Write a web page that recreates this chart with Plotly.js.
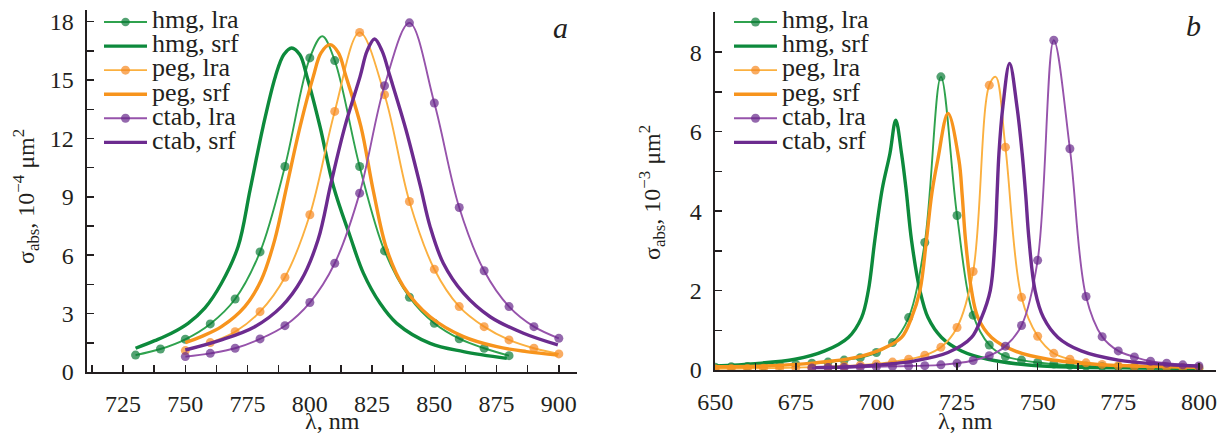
<!DOCTYPE html>
<html><head><meta charset="utf-8">
<script src="https://cdn.plot.ly/plotly-3.0.1.min.js"></script>
<style>html,body{margin:0;padding:0;background:#fff}#chart{width:1224px;height:434px}</style>
</head><body><div id="chart"></div>
<script>
// ---------------- Panel a (sigma_abs, 1e-4 um^2) ----------------
const aHmgLraX = [730,740,750,760,770,780,790,800,810,820,830,840,850,860,870,880];
const aHmgLraY = [0.87,1.18,1.68,2.47,3.75,6.17,10.56,16.14,16.0,10.56,6.22,3.84,2.5,1.71,1.22,0.84];
const aHmgLraPeak = [[805,17.25]];
const aHmgSrfX = [730,737.7,744.4,751.1,757.8,764.5,771.2,776,781.2,786.2,789.5,792.7,796,798.8,804.1,809.5,816.2,821.5,828.2,834.9,848.3,861.7,879.1];
const aHmgSrfY = [1.22,1.61,1.99,2.5,3.28,4.56,6.45,9.36,12.6,15.2,16.3,16.65,16.3,15.2,12.6,9.53,6.96,5.08,3.53,2.5,1.47,1.05,0.7];

const aPegLraX = [750,760,770,780,790,800,810,820,830,840,850,860,870,880,890,900];
const aPegLraY = [1.1,1.51,2.07,3.1,4.87,8.08,13.39,17.45,14.25,8.76,5.28,3.36,2.33,1.65,1.22,0.93];
const aPegLraPeak = [];
const aPegSrfX = [750,756.4,764.5,773.9,780.5,785.9,790.7,796.1,801.4,804.5,808.1,811.5,814.5,820.5,825.5,830.9,837.6,848.3,861.7,875.1,887,899.6];
const aPegSrfY = [1.51,1.82,2.33,3.36,4.73,6.79,9.53,12.62,15.19,16.4,16.82,16.4,15.19,12.62,9.3,6.3,4.39,2.84,1.82,1.3,1.05,0.87];

const aCtabLraX = [750,760,770,780,790,800,810,820,830,840,850,860,870,880,890,900];
const aCtabLraY = [0.79,0.96,1.22,1.7,2.38,3.57,5.59,9.19,14.71,17.94,13.82,8.45,5.2,3.36,2.33,1.73];
const aCtabLraPeak = [];
const aCtabSrfX = [750,764.5,777.9,788.6,796.6,803.3,808.5,814.1,820.2,823,826,829,832.2,838.5,844.3,848.3,853.6,861.7,872.4,885.8,899.6];
const aCtabSrfY = [1.13,1.65,2.33,3.36,4.73,6.79,9.7,12.62,15.19,16.5,17.11,16.5,15.19,12.5,9.6,7.47,5.59,4.05,2.84,1.99,1.39];

// ---------------- Panel b (sigma_abs, 1e-3 um^2) ----------------
const bHmgLraX = [650,655,660,665,670,675,680,685,690,695,700,705,710,715,720,725,730,735,740,745,750,755,760,765,770,775,780,785,790,795,800];
const bHmgLraY = [0.07,0.08,0.09,0.10,0.12,0.14,0.17,0.20,0.25,0.31,0.44,0.69,1.32,3.21,7.38,3.89,1.38,0.63,0.34,0.25,0.19,0.15,0.12,0.10,0.09,0.08,0.07,0.06,0.06,0.05,0.05];
const bHmgLraPeak = [];
const bHmgSrfX = [650,662.4,674.8,684,691.3,695.4,697.5,699.5,701.8,704.2,706,707.8,709.2,710.9,713.5,716,720.2,726.4,734.6,748,763.5,780,800];
const bHmgSrfY = [0.1,0.16,0.27,0.48,0.82,1.32,2.0,3.26,4.55,5.45,6.29,5.45,4.55,3.26,2.0,1.32,0.82,0.48,0.27,0.12,0.07,0.05,0.04];

const bPegLraX = [650,655,660,665,670,675,680,685,690,695,700,705,710,715,720,725,730,735,740,745,750,755,760,765,770,775,780,785,790,795,800];
const bPegLraY = [0.03,0.035,0.04,0.045,0.05,0.06,0.07,0.08,0.1,0.12,0.15,0.2,0.27,0.37,0.57,1.07,2.48,7.17,5.61,1.83,0.85,0.42,0.27,0.18,0.14,0.11,0.09,0.08,0.07,0.06,0.05];
const bPegLraPeak = [[737,7.38]];
const bPegSrfX = [650,665.5,681,693.3,701.6,707.8,710.9,713.5,715.5,717.2,719,722.2,725.6,726.6,727.6,729.5,731.5,735.7,742.9,753.2,768.7,785,800];
const bPegSrfY = [0.08,0.1,0.18,0.31,0.52,0.82,1.32,2.0,3.26,4.45,5.28,6.46,5.28,4.4,3.3,2.0,1.32,0.82,0.48,0.27,0.14,0.09,0.07];

const bCtabLraX = [680,685,690,695,700,705,710,715,720,725,730,735,740,745,750,755,760,765,770,775,780,785,790,795,800];
const bCtabLraY = [0.05,0.06,0.06,0.07,0.08,0.09,0.1,0.11,0.13,0.17,0.24,0.36,0.6,1.12,2.76,8.3,5.57,1.85,0.84,0.48,0.33,0.22,0.17,0.13,0.1];
const bCtabLraPeak = [];
const bCtabSrfX = [681,696.4,711.9,722.2,729.5,732.6,735.3,736.8,737.4,738,739.2,741.3,743.6,745.2,746.3,747.3,749.2,751.8,756.3,763.5,775,790,800];
const bCtabSrfY = [0.06,0.1,0.23,0.44,0.82,1.32,2.0,3.3,4.4,5.45,6.62,7.72,6.62,5.45,4.4,3.3,2.0,1.32,0.82,0.48,0.25,0.14,0.1];

const seriesNames = ['hmg, lra','hmg, srf','peg, lra','peg, srf','ctab, lra','ctab, srf'];
const xTitle = 'λ, nm';
const yTitleA = 'σ<sub>abs</sub>, 10<sup>−4</sup> μm<sup>2</sup>';
const yTitleB = 'σ<sub>abs</sub>, 10<sup>−3</sup> μm<sup>2</sup>';

// ---------------- styles ----------------
const COL = {
  hmg:  {srf:'#0d8a3c', lra:'#2fa24e', mk:'#0a7a36'},
  peg:  {srf:'#f7941d', lra:'#fbb040', mk:'#f6891f'},
  ctab: {srf:'#6c2b8f', lra:'#9653ab', mk:'#67288a'}
};
const LEG_TEXT = 26;
function label(n){ return '<span style="font-size:'+LEG_TEXT+'px">'+n+'</span>'; }

function lraTrace(name, mx, my, peaks, c, xa, ya, leg){
  const pts = mx.map((x,i)=>[x,my[i],9]);
  peaks.forEach(p=>pts.push([p[0],p[1],0]));
  pts.sort((a,b)=>a[0]-b[0]);
  return {type:'scatter', mode:'lines+markers', name:label(name),
    x:pts.map(p=>p[0]), y:pts.map(p=>p[1]), xaxis:xa, yaxis:ya, legend:leg,
    line:{color:c.lra, width:1.9, shape:'spline', smoothing:1},
    marker:{color:c.mk, size:pts.map(p=>p[2]), line:{width:0}}, hoverinfo:'skip'};
}
function srfTrace(name, x, y, c, xa, ya, leg){
  return {type:'scatter', mode:'lines', name:label(name), x:x, y:y, xaxis:xa, yaxis:ya, legend:leg,
    line:{color:c.srf, width:3.4, shape:'spline', smoothing:1}, hoverinfo:'skip'};
}

const traces = [
  lraTrace(seriesNames[0], aHmgLraX, aHmgLraY, aHmgLraPeak, COL.hmg, 'x','y','legend'),
  srfTrace(seriesNames[1], aHmgSrfX, aHmgSrfY, COL.hmg, 'x','y','legend'),
  lraTrace(seriesNames[2], aPegLraX, aPegLraY, aPegLraPeak, COL.peg, 'x','y','legend'),
  srfTrace(seriesNames[3], aPegSrfX, aPegSrfY, COL.peg, 'x','y','legend'),
  lraTrace(seriesNames[4], aCtabLraX, aCtabLraY, aCtabLraPeak, COL.ctab, 'x','y','legend'),
  srfTrace(seriesNames[5], aCtabSrfX, aCtabSrfY, COL.ctab, 'x','y','legend'),

  lraTrace(seriesNames[0], bHmgLraX, bHmgLraY, bHmgLraPeak, COL.hmg, 'x2','y2','legend2'),
  srfTrace(seriesNames[1], bHmgSrfX, bHmgSrfY, COL.hmg, 'x2','y2','legend2'),
  lraTrace(seriesNames[2], bPegLraX, bPegLraY, bPegLraPeak, COL.peg, 'x2','y2','legend2'),
  srfTrace(seriesNames[3], bPegSrfX, bPegSrfY, COL.peg, 'x2','y2','legend2'),
  lraTrace(seriesNames[4], bCtabLraX, bCtabLraY, bCtabLraPeak, COL.ctab, 'x2','y2','legend2'),
  srfTrace(seriesNames[5], bCtabSrfX, bCtabSrfY, COL.ctab, 'x2','y2','legend2')
];

const W = 1224, H = 434;
const px = v => v / W;
const py = v => 1 - v / H;
const INK = '#231f20';
const FONT = 'Liberation Serif, Times New Roman, serif';
const TICKF = {family:FONT, size:24, color:INK};

function xAxis(dom, range, anchor){
  return {domain:dom, range:range, anchor:anchor, showline:true, linewidth:2, linecolor:INK,
    ticks:'inside', ticklen:7, tickwidth:1.5, tickcolor:INK, dtick:25, tick0:0,
    minor:{dtick:12.5, ticks:'inside', ticklen:7, tickwidth:1.5, tickcolor:INK, showgrid:false},
    showgrid:false, zeroline:false, tickfont:TICKF, ticklabelstandoff:9, automargin:false};
}
function yAxis(dom, range, anchor, dt){
  return {domain:dom, range:range, anchor:anchor, showline:true, linewidth:2, linecolor:INK,
    ticks:'inside', ticklen:7, tickwidth:1.5, tickcolor:INK, dtick:dt, tick0:0,
    minor:{dtick:dt/2, ticks:'inside', ticklen:7, tickwidth:1.5, tickcolor:INK, showgrid:false},
    showgrid:false, zeroline:false, tickfont:TICKF, ticklabelstandoff:6, automargin:false};
}

const legendBase = {xanchor:'left', yanchor:'top', bgcolor:'rgba(0,0,0,0)', borderwidth:0,
  font:{family:FONT, size:16.2, color:INK}, itemwidth:43, tracegroupgap:0, traceorder:'normal', itemclick:false};

const TF = {family:FONT, size:24, color:INK};
function ann(text, x, y, extra){
  return Object.assign({text:text, x:px(x), y:py(y), xref:'paper', yref:'paper', showarrow:false,
    xanchor:'center', yanchor:'middle', font:TF}, extra || {});
}
const layout = {
  width:W, height:H, margin:{l:0, r:0, t:0, b:0, autoexpand:false},
  paper_bgcolor:'#ffffff', plot_bgcolor:'rgba(0,0,0,0)',
  font:{family:FONT, color:INK, size:22},
  showlegend:true,
  xaxis: xAxis([px(86.5), px(577)], [710.3, 907.3], 'y'),
  yaxis: yAxis([py(372), py(10)], [0, 18.6], 'x', 3),
  xaxis2: xAxis([px(714.5), px(1216)], [649.8, 805.3], 'y2'),
  yaxis2: yAxis([py(370), py(11.7)], [0, 9.02], 'x2', 2),
  legend: Object.assign({x:px(99), y:py(5)}, legendBase),
  legend2: Object.assign({x:px(729), y:py(5)}, legendBase),
  annotations:[
    ann(xTitle, 332, 421),
    ann(xTitle, 965, 421),
    ann(yTitleA, 26, 197, {textangle:-90}),
    ann(yTitleB, 652, 193, {textangle:-90}),
    ann('<i>a</i>', 560, 27, {font:{family:FONT, size:30, color:INK}}),
    ann('<i>b</i>', 1193, 25, {font:{family:FONT, size:30, color:INK}})
  ]
};

Plotly.newPlot('chart', traces, layout, {displayModeBar:false, staticPlot:true});
</script></body></html>
